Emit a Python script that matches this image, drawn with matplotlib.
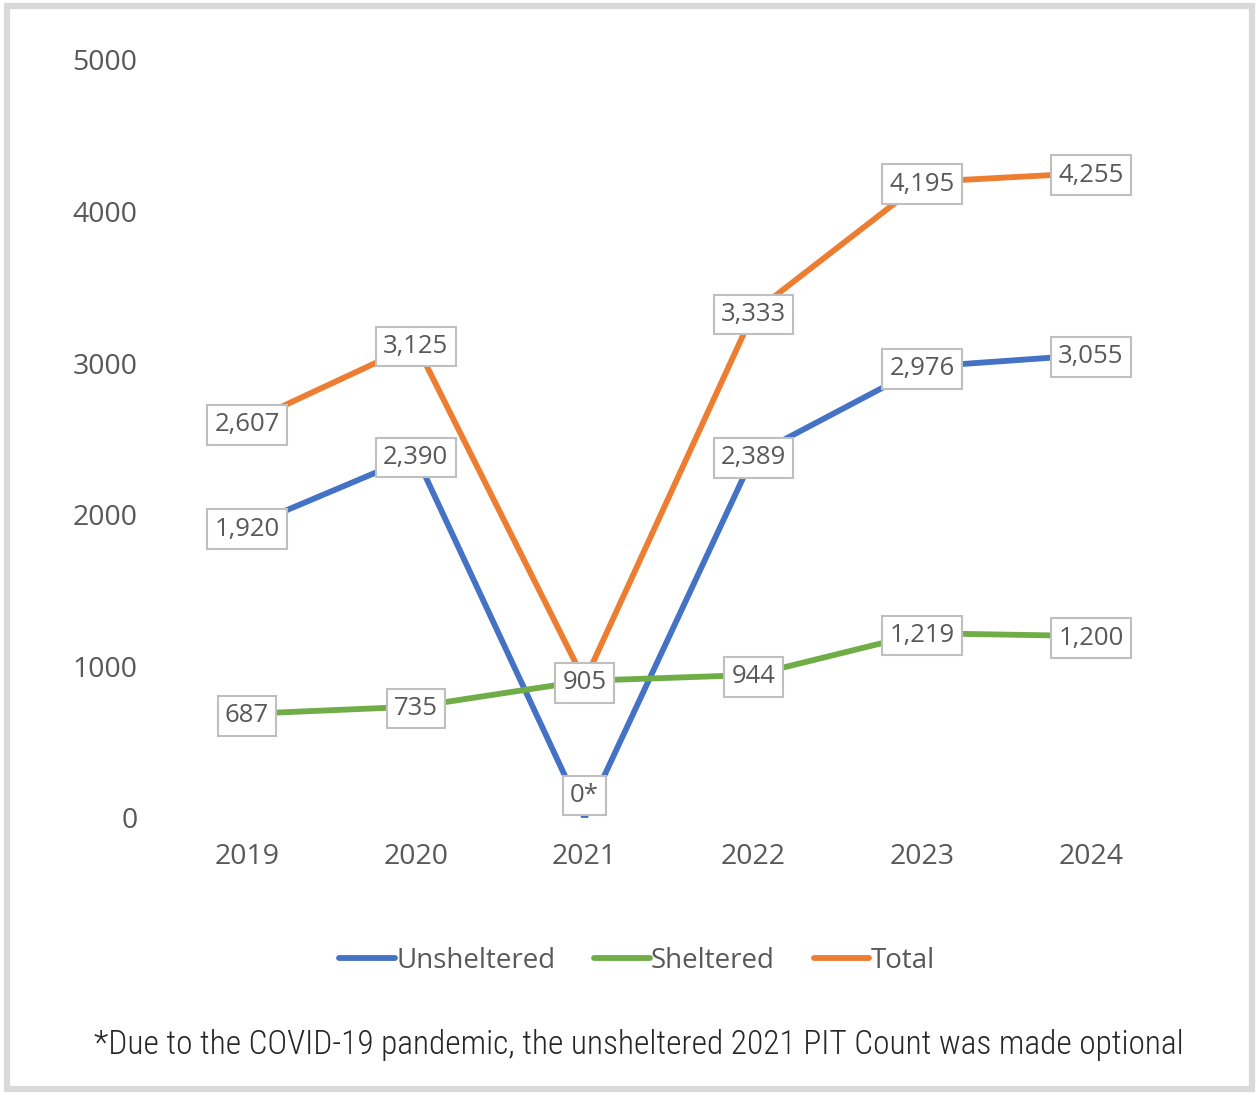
import matplotlib
matplotlib.use("Agg")
from matplotlib import pyplot as plt
from matplotlib.patches import Rectangle

# dane z wykresu
lata = ["2019", "2020", "2021", "2022", "2023", "2024"]
unsheltered = [1920, 2390, 0, 2389, 2976, 3055]
sheltered = [687, 735, 905, 944, 1219, 1200]
total = [2607, 3125, 905, 3333, 4195, 4255]
etykiety_unsheltered = ["1,920", "2,390", "0*", "2,389", "2,976", "3,055"]
etykiety_sheltered = ["687", "735", "905", "944", "1,219", "1,200"]
etykiety_total = ["2,607", "3,125", "", "3,333", "4,195", "4,255"]

NIEBIESKI = "#4472C4"
ZIELONY = "#70AD47"
POMARANCZ = "#ED7D31"
TEKST = "#595959"

plt.rcParams["font.family"] = ["Open Sans", "DejaVu Sans"]

W, H = 1259, 1094
fig = plt.figure(figsize=(W / 100, H / 100), dpi=100, facecolor="white")

# ramka wokol wykresu
fig.patches.append(Rectangle((7 / W, 5 / H), 1245 / W, 1083 / H, transform=fig.transFigure,
                             fill=False, edgecolor="#D9D9D9", linewidth=4.5))

ax = fig.add_axes([162.6 / W, (H - 818) / H, 1012.8 / W, 758 / H])
x = list(range(len(lata)))
seria1 = ax.plot(x, unsheltered, color=NIEBIESKI, lw=4.2, solid_capstyle="round", zorder=3)
seria2 = ax.plot(x, sheltered, color=ZIELONY, lw=4.2, solid_capstyle="round", zorder=3)
seria3 = ax.plot(x, total, color=POMARANCZ, lw=4.2, solid_capstyle="round", zorder=3)

ax.set_xlim(-0.5, len(lata) - 0.5)
ax.set_ylim(0, 5000)
ax.set_yticks([0, 1000, 2000, 3000, 4000, 5000])
ax.set_xticks(x)
ax.set_xticklabels(lata)
for s in ax.spines.values():
    s.set_visible(False)
ax.tick_params(length=0, labelsize=20.5, colors=TEKST, labelcolor=TEKST)
ax.tick_params(axis="y", pad=18)
ax.tick_params(axis="x", pad=18)

ramka = dict(boxstyle="square,pad=0.28", facecolor="white", edgecolor="#BFBFBF", linewidth=1.5)

def podpisz(wartosci, etykiety):
    for i, (v, e) in enumerate(zip(wartosci, etykiety)):
        if not e:
            continue
        dy = 16 if v == 0 else -1.5
        ax.annotate(e, (i, v), xytext=(0, dy), textcoords="offset points",
                    ha="center", va="center", fontsize=18.5, color=TEKST,
                    bbox=ramka, zorder=5)

podpisz(unsheltered, etykiety_unsheltered)
podpisz(sheltered, etykiety_sheltered)
podpisz(total, etykiety_total)

fig.legend(seria1 + seria2 + seria3, ["Unsheltered", "Sheltered", "Total"],
           loc="center", bbox_to_anchor=(637 / W, (H - 961) / H), ncol=3, frameon=False,
           fontsize=20, labelcolor=TEKST, handlelength=2.0, handletextpad=0.05,
           columnspacing=1.4)

fig.text(639 / W, (H - 1045) / H,
         "*Due to the COVID-19 pandemic, the unsheltered 2021 PIT Count was made optional",
         ha="center", va="center", fontsize=24, color="#262626", fontweight="light",
         family=["Roboto Condensed", "Roboto", "DejaVu Sans"])

fig.savefig("out.png", dpi=100, facecolor="white")
